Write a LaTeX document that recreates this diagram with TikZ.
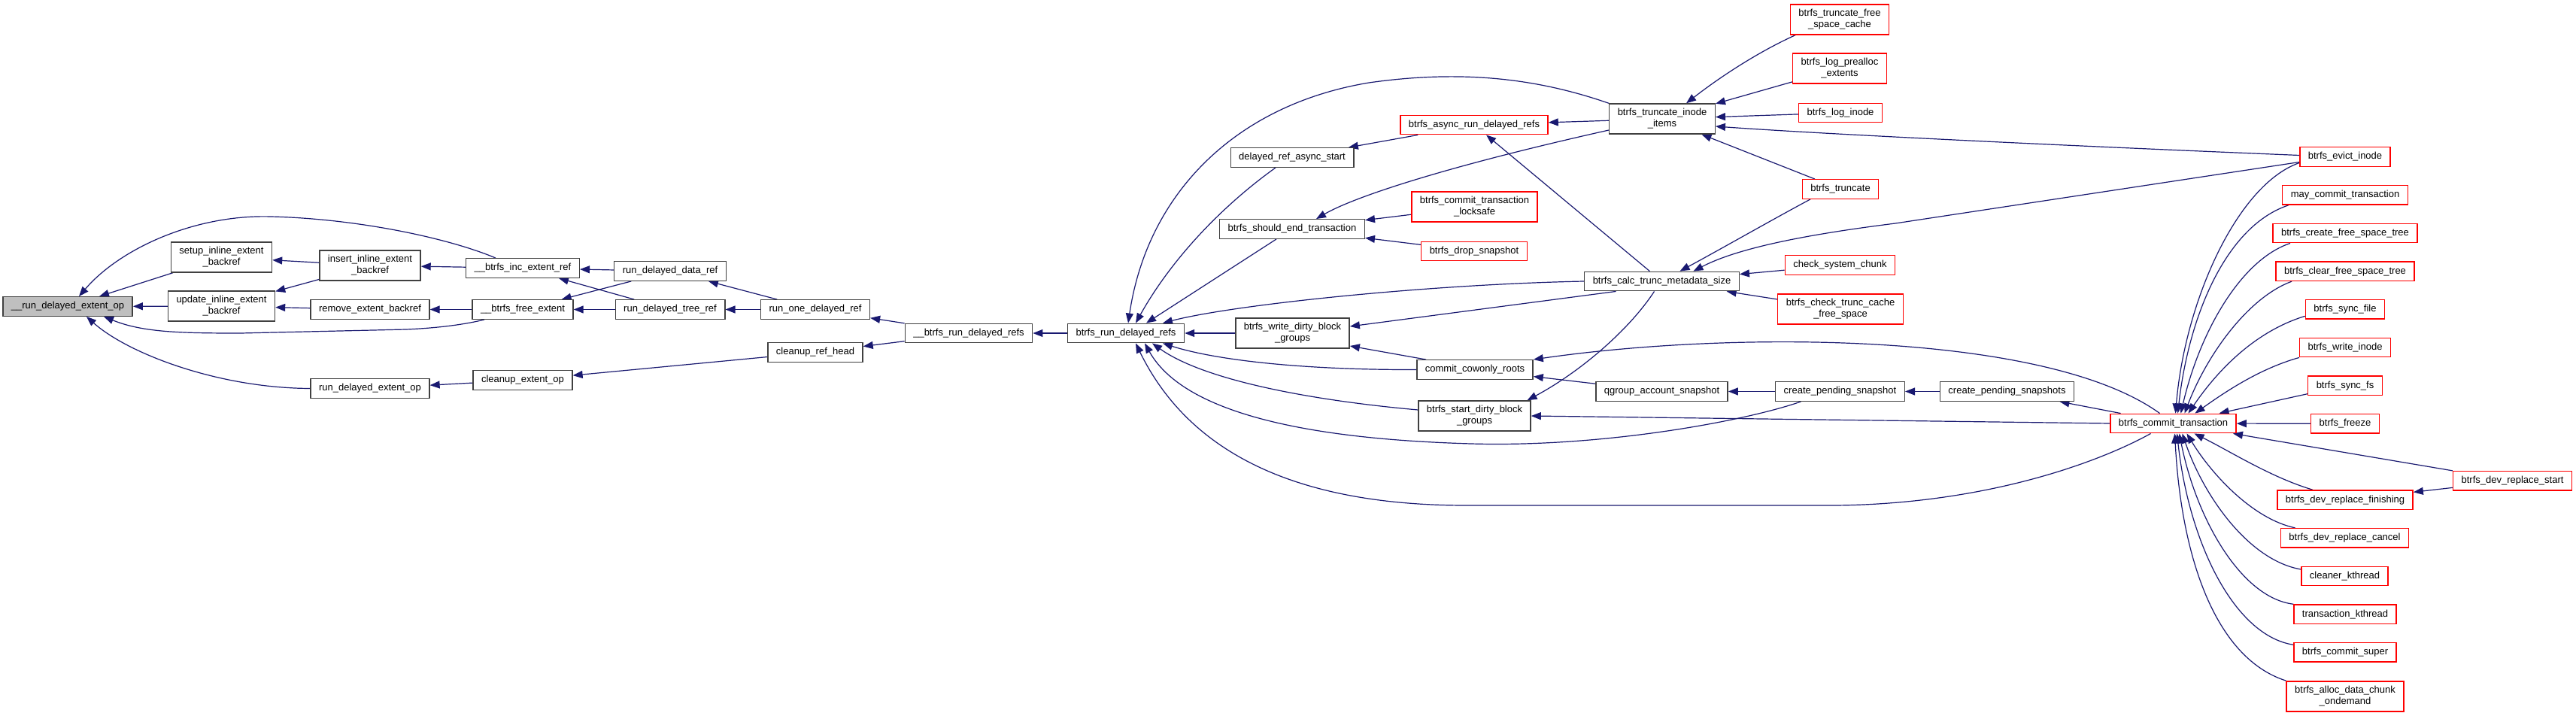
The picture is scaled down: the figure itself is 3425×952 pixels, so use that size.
\documentclass[tikz,border=0pt]{standalone}
\usepackage{fontspec}
\setmainfont{Liberation Sans}
\usetikzlibrary{arrows.meta}
\definecolor{edgeblue}{HTML}{191970}
\definecolor{nodegray}{HTML}{BFBFBF}
\definecolor{boxborder}{HTML}{404040}
\definecolor{boxred}{HTML}{FF0000}
\pgfdeclarelayer{bgl}
\pgfdeclarelayer{edgel}
\pgfsetlayers{bgl,edgel,main}
\begin{document}
\begin{tikzpicture}[x=1pt,y=-1pt,
  fn/.style={draw=boxborder, line width=1.4pt, fill=white, font=\fontsize{13}{15}\selectfont,
    inner xsep=11pt, inner ysep=2pt, minimum height=25.5pt, align=center},
  rn/.style={fn, draw=boxred},
  two/.style={minimum height=40pt},
  calls/.style={draw=edgeblue, line width=1.2pt, {Triangle[length=13pt,width=10pt]}-}]
\begin{pgfonlayer}{bgl}
\fill[white] (0,0) rectangle (3425,952);
\end{pgfonlayer}
\useasboundingbox (0,0) rectangle (3425,952);
% nodes
\node[fn, fill=nodegray] (n0) at (90,407.5) {\_\_run\_delayed\_extent\_op};
\node[fn,two] (setup) at (294.5,342) {setup\_inline\_extent\\\_backref};
\node[fn,two] (update) at (294.5,407) {update\_inline\_extent\\\_backref};
\node[fn,two] (insert) at (492,353) {insert\_inline\_extent\\\_backref};
\node[fn] (remove) at (492,411.5) {remove\_extent\_backref};
\node[fn] (rdeo) at (492,516.5) {run\_delayed\_extent\_op};
\node[fn] (incref) at (695,356.5) {\_\_btrfs\_inc\_extent\_ref};
\node[fn] (freeext) at (695,411.5) {\_\_btrfs\_free\_extent};
\node[fn] (cleanupop) at (695,505.5) {cleanup\_extent\_op};
\node[fn] (rdata) at (891,360.5) {run\_delayed\_data\_ref};
\node[fn] (rtree) at (891,411.5) {run\_delayed\_tree\_ref};
\node[fn] (rone) at (1084,411.5) {run\_one\_delayed\_ref};
\node[fn] (crh) at (1084,468.5) {cleanup\_ref\_head};
\node[fn] (brdrx) at (1288,443) {\_\_btrfs\_run\_delayed\_refs};
\node[fn] (brdr) at (1497,443) {btrfs\_run\_delayed\_refs};
\node[fn] (dras) at (1718,209.5) {delayed\_ref\_async\_start};
\node[fn] (bset) at (1718,304.5) {btrfs\_should\_end\_transaction};
\node[fn,two] (bwdbg) at (1718.5,443) {btrfs\_write\_dirty\_block\\\_groups};
\node[rn] (bard) at (1960,166) {btrfs\_async\_run\_delayed\_refs};
\node[rn,two] (bctl) at (1960.5,275) {btrfs\_commit\_transaction\\\_locksafe};
\node[rn] (bds) at (1960,334) {btrfs\_drop\_snapshot};
\node[fn] (ccr) at (1961,491.5) {commit\_cowonly\_roots};
\node[fn,two] (bsdbg) at (1960.5,553) {btrfs\_start\_dirty\_block\\\_groups};
\node[fn,two] (btii) at (2210,158) {btrfs\_truncate\_inode\\\_items};
\node[fn] (bctms) at (2209.5,374) {btrfs\_calc\_trunc\_metadata\_size};
\node[fn] (qas) at (2209.5,520.5) {qgroup\_account\_snapshot};
\node[rn,two] (btfsc) at (2446,26) {btrfs\_truncate\_free\\\_space\_cache};
\node[rn,two] (blpe) at (2446,91) {btrfs\_log\_prealloc\\\_extents};
\node[rn] (bli) at (2447,150) {btrfs\_log\_inode};
\node[rn] (btr) at (2447,251.5) {btrfs\_truncate};
\node[rn] (csc) at (2446.5,352.5) {check\_system\_chunk};
\node[rn,two] (bctcfs) at (2447,411) {btrfs\_check\_trunc\_cache\\\_free\_space};
\node[fn] (cps) at (2446.5,520.5) {create\_pending\_snapshot};
\node[fn] (cpss) at (2668.5,520.5) {create\_pending\_snapshots};
\node[rn] (bct) at (2889.5,563) {btrfs\_commit\_transaction};
\node[rn] (bei) at (3118,208.5) {btrfs\_evict\_inode};
\node[rn] (mct) at (3118,259.3) {may\_commit\_transaction};
\node[rn] (bcfst) at (3118,310) {btrfs\_create\_free\_space\_tree};
\node[rn] (bclfst) at (3118,360.7) {btrfs\_clear\_free\_space\_tree};
\node[rn] (bsf) at (3118,411.3) {btrfs\_sync\_file};
\node[rn] (bwi) at (3118,462) {btrfs\_write\_inode};
\node[rn] (bsfs) at (3118,512.7) {btrfs\_sync\_fs};
\node[rn] (bfz) at (3118,563.3) {btrfs\_freeze};
\node[rn] (bdrs) at (3340.5,639.3) {btrfs\_dev\_replace\_start};
\node[rn] (bdrf) at (3118,664.7) {btrfs\_dev\_replace\_finishing};
\node[rn] (bdrc) at (3117.5,715.3) {btrfs\_dev\_replace\_cancel};
\node[rn] (ckt) at (3117.5,766) {cleaner\_kthread};
\node[rn] (tkt) at (3118,816.7) {transaction\_kthread};
\node[rn] (bcs) at (3118,867.3) {btrfs\_commit\_super};
\node[rn,two] (badco) at (3118,925.8) {btrfs\_alloc\_data\_chunk\\\_ondemand};
% edges
\begin{pgfonlayer}{edgel}
\draw[calls] (n0) -- (setup);
\draw[calls] (n0) -- (update);
\draw[calls] ([xshift=15pt]n0.north) .. controls (160,330) and (260,285) .. (360,288) .. controls (480,291) and (600,318) .. ([xshift=-36pt]incref.north);
\draw[calls] ([xshift=48pt]n0.south) .. controls (190,442) and (240,443) .. (320,443) -- (540,438) .. controls (585,436) and (620,431) .. ([xshift=-51pt]freeext.south);
\draw[calls] ([xshift=25pt]n0.south) .. controls (170,470) and (290,516) .. (rdeo.west);
\draw[calls] (setup) -- (insert);
\draw[calls] (update) -- (insert);
\draw[calls] (update) -- (remove);
\draw[calls] (insert) -- (incref);
\draw[calls] (remove) -- (freeext);
\draw[calls] (rdeo) -- (cleanupop);
\draw[calls] (incref) -- (rdata);
\draw[calls] (incref) -- (rtree);
\draw[calls] (freeext) -- (rdata);
\draw[calls] (freeext) -- (rtree);
\draw[calls] (rdata) -- (rone);
\draw[calls] (rtree) -- (rone);
\draw[calls] (cleanupop) -- (crh);
\draw[calls] (rone) -- (brdrx);
\draw[calls] (crh) -- (brdrx);
\draw[calls] (brdrx) -- (brdr);
\draw[calls] (brdr) -- (bwdbg);
% callers of btrfs_run_delayed_refs
\draw[calls] ([xshift=3pt]brdr.north) .. controls (1525,260) and (1640,140) .. (1820,110) .. controls (1960,90) and (2060,110) .. (btii.north west);
\draw[calls] ([xshift=13pt]brdr.north) .. controls (1560,340) and (1630,270) .. ([xshift=-22pt]dras.south);
\draw[calls] ([xshift=27pt]brdr.north) -- ([xshift=-21pt]bset.south);
\draw[calls] ([xshift=49pt]brdr.north) .. controls (1640,405) and (1900,378) .. (bctms.west);
\draw[calls] ([xshift=49pt]brdr.south) .. controls (1620,480) and (1740,492) .. (ccr.west);
\draw[calls] ([xshift=35pt]brdr.south) .. controls (1600,505) and (1740,532) .. ([yshift=8pt]bsdbg.west);
\draw[calls] ([xshift=25pt]brdr.south) .. controls (1580,560) and (1780,585) .. (1956,590) .. controls (2130,595) and (2320,560) .. ([xshift=-52pt]cps.south);
\draw[calls] ([xshift=13pt]brdr.south) .. controls (1580,600) and (1720,672) .. (1950,672) -- (2440,672) .. controls (2640,670) and (2790,615) .. ([xshift=-30pt]bct.south);
% middle
\draw[calls] (dras) -- (bard);
\draw[calls] (bset) -- (bctl);
\draw[calls] (bset) -- (bds);
\draw[calls] ([xshift=32pt]bset.north) .. controls (1800,262) and (1920,222) .. ([yshift=-15pt]btii.west);
\draw[calls] ([yshift=9pt]bwdbg.east) -- ([xshift=-61pt]bctms.south);
\draw[calls] ([yshift=-17pt]bwdbg.east) -- ([xshift=-65pt]ccr.north);
\draw[calls] (bard) -- (btii);
\draw[calls] (bard) -- (bctms);
\draw[calls] (ccr.north east) .. controls (2300,440) and (2720,440) .. ([xshift=-18pt]bct.north);
\draw[calls] (ccr) -- (qas);
\draw[calls] ([xshift=70pt]bsdbg.north) .. controls (2100,495) and (2165,440) .. ([xshift=-10pt]bctms.south);
\draw[calls] (bsdbg.east) -- (bct.west);
\draw[calls] (qas) -- (cps);
\draw[calls] (cps) -- (cpss);
\draw[calls] (cpss) -- (bct);
% callers of btrfs_truncate_inode_items
\draw[calls] ([xshift=32pt]btii.north) .. controls (2290,100) and (2340,68) .. ([xshift=-59pt]btfsc.south);
\draw[calls] (btii) -- (blpe);
\draw[calls] (btii) -- (bli);
\draw[calls] ([yshift=-10pt]btii.east) .. controls (2450,180) and (2800,196) .. ([yshift=2pt]bei.west);
\draw[calls] (btii) -- (btr);
% callers of btrfs_calc_trunc_metadata_size
\draw[calls] ([xshift=24pt]bctms.north) .. controls (2290,330) and (2360,290) .. ([xshift=-40pt]btr.south);
\draw[calls] ([xshift=42pt]bctms.north) .. controls (2310,330) and (2400,312) .. (2520,297) -- ([yshift=-7pt]bei.west);
\draw[calls] (bctms) -- (csc);
\draw[calls] (bctms) -- (bctcfs);
% callers of btrfs_commit_transaction
\draw[calls] ([xshift=3pt]bct.north) .. controls (2905,400) and (2975,245) .. ([yshift=-8pt]bei.west);
\draw[calls] ([xshift=6pt]bct.north) .. controls (2910,420) and (2960,300) .. ([xshift=-75pt]mct.south);
\draw[calls] ([xshift=10pt]bct.north) .. controls (2925,440) and (2980,345) .. ([xshift=-73pt]bcfst.south);
\draw[calls] ([xshift=15pt]bct.north) .. controls (2935,470) and (2990,395) .. ([xshift=-71pt]bclfst.south);
\draw[calls] ([xshift=20pt]bct.north) .. controls (2950,490) and (3000,440) .. ([yshift=-9pt]bsf.west);
\draw[calls] ([xshift=29pt]bct.north) .. controls (2960,520) and (3005,490) .. (bwi.south west);
\draw[calls] (bct) -- (bsfs);
\draw[calls] (bct) -- (bfz);
\draw[calls] (bct) -- (bdrs);
\draw[calls] ([xshift=28pt]bct.south) .. controls (2965,600) and (3020,635) .. ([xshift=-43pt]bdrf.north);
\draw[calls] ([xshift=18pt]bct.south) .. controls (2940,630) and (2995,690) .. ([xshift=-66pt]bdrc.north);
\draw[calls] ([xshift=12pt]bct.south) .. controls (2930,660) and (2990,745) .. ([yshift=9pt]ckt.west);
\draw[calls] ([xshift=8pt]bct.south) .. controls (2920,690) and (2980,795) .. (tkt.north west);
\draw[calls] ([xshift=5pt]bct.south) .. controls (2910,720) and (2970,845) .. ([yshift=10pt]bcs.west);
\draw[calls] ([xshift=2pt]bct.south) .. controls (2900,740) and (2945,875) .. (badco.north west);
\draw[calls] (bdrf) -- (bdrs);
\end{pgfonlayer}
\end{tikzpicture}
\end{document}
